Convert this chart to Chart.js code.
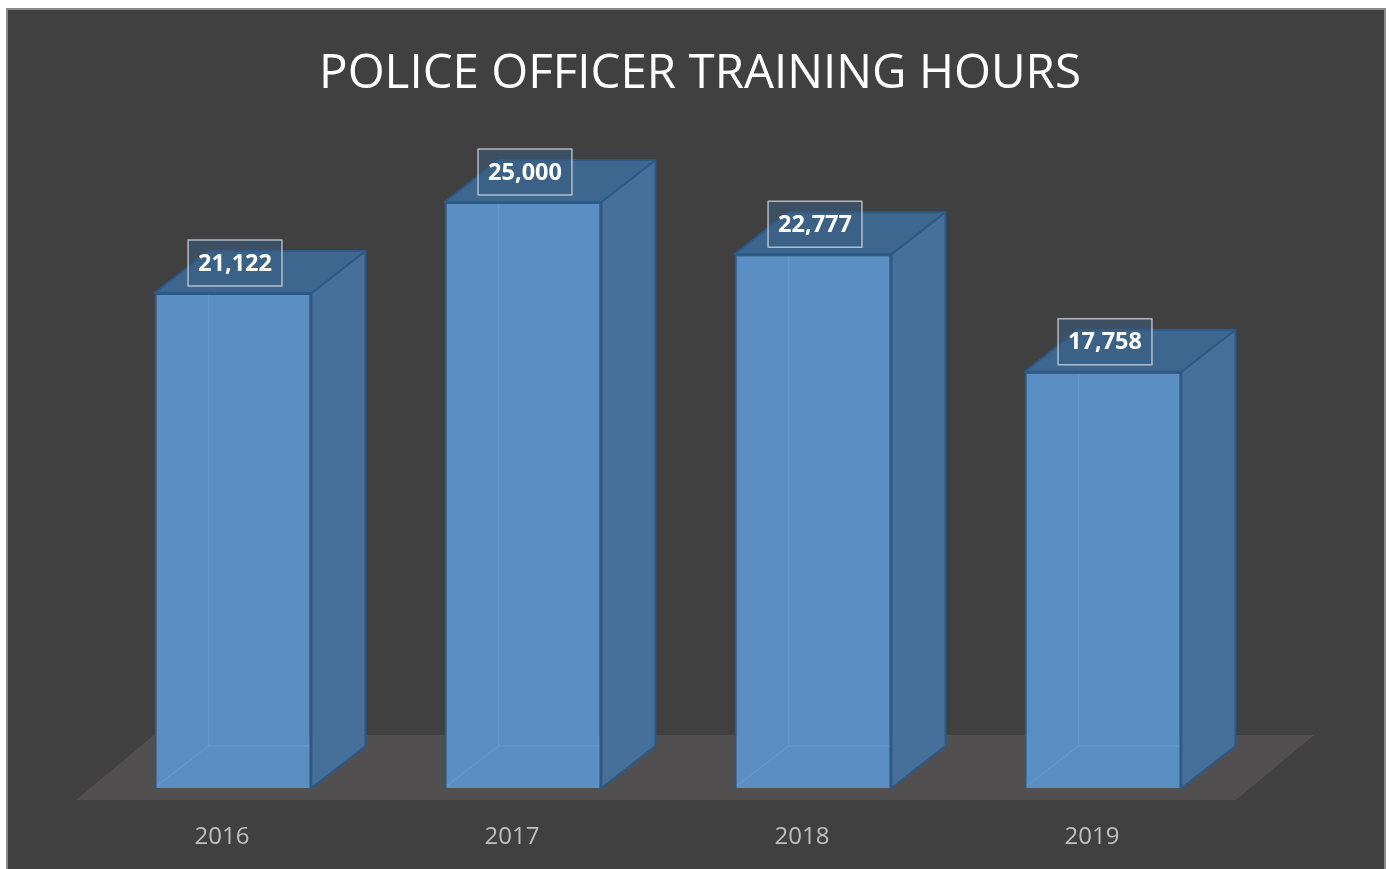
<!DOCTYPE html>
<html>
<head>
<meta charset="utf-8">
<script src="https://cdn.jsdelivr.net/npm/chart.js@4/dist/chart.umd.min.js"></script>
<style>
  html, body { margin: 0; padding: 0; background: #ffffff; overflow: hidden; }
  #wrap { position: relative; width: 1390px; height: 869px; }
  #frame {
    position: absolute; left: 6px; top: 8px; width: 1376px; height: 870px;
    border: 2px solid #8a8a8a; background: #404040;
  }
  #chart { position: absolute; left: 0; top: 0; }
</style>
</head>
<body>
<div id="wrap">
  <div id="frame"></div>
  <canvas id="chart" width="1390" height="869"></canvas>
</div>
<script>
const chartTitle = 'POLICE OFFICER TRAINING HOURS';
const years = ['2016', '2017', '2018', '2019'];
const trainingHours = [21122, 25000, 22777, 17758];

// depth of the fake 3d extrusion
const depthX = 54;
const depthY = -42;

// title is drawn over the whole canvas width, not just the plot area
const titlePlugin = {
  id: 'centerTitle',
  afterDraw(chart) {
    const { ctx, width } = chart;
    ctx.save();
    ctx.font = '47.5px "Open Sans", sans-serif';
    ctx.fillStyle = '#ffffff';
    ctx.textAlign = 'center';
    ctx.textBaseline = 'alphabetic';
    ctx.fillText(chartTitle, width / 2 + 5, 88);
    ctx.restore();
  }
};

const floorPlugin = {
  id: 'floor',
  beforeDatasetsDraw(chart) {
    const { ctx, chartArea } = chart;
    const b = chartArea.bottom;
    ctx.save();
    ctx.fillStyle = '#514f4f';
    ctx.beginPath();
    ctx.moveTo(chartArea.left - 12, b + 12);
    ctx.lineTo(chartArea.right - 12, b + 12);
    ctx.lineTo(chartArea.right + 66, b - 53);
    ctx.lineTo(chartArea.left + 66, b - 53);
    ctx.closePath();
    ctx.fill();
    ctx.restore();
  }
};

const boxPlugin = {
  id: 'box3d',
  afterDatasetsDraw(chart) {
    const { ctx } = chart;
    const meta = chart.getDatasetMeta(0);
    ctx.save();
    meta.data.forEach((bar, i) => {
      const left = bar.x - bar.width / 2;
      const right = bar.x + bar.width / 2;
      const top = bar.y;
      const base = bar.base;

      ctx.lineJoin = 'round';
      ctx.strokeStyle = '#2c5a88';
      ctx.lineWidth = 2;

      // side
      ctx.fillStyle = 'rgba(70, 114, 156, 0.97)';
      ctx.beginPath();
      ctx.moveTo(right, top);
      ctx.lineTo(right + depthX, top + depthY);
      ctx.lineTo(right + depthX, base + depthY);
      ctx.lineTo(right, base);
      ctx.closePath();
      ctx.fill();
      ctx.stroke();

      // top
      ctx.fillStyle = 'rgba(62, 104, 146, 0.97)';
      ctx.beginPath();
      ctx.moveTo(left, top);
      ctx.lineTo(left + depthX, top + depthY);
      ctx.lineTo(right + depthX, top + depthY);
      ctx.lineTo(right, top);
      ctx.closePath();
      ctx.fill();
      ctx.stroke();

      // faint hidden back edges seen through the front
      ctx.strokeStyle = 'rgba(120, 170, 220, 0.35)';
      ctx.lineWidth = 1.5;
      ctx.beginPath();
      ctx.moveTo(left + 2, base - 2);
      ctx.lineTo(left + depthX, base + depthY);
      ctx.lineTo(left + depthX, top + 2);
      ctx.moveTo(left + depthX, base + depthY);
      ctx.lineTo(right - 2, base + depthY);
      ctx.stroke();

      // value label
      const text = trainingHours[i].toLocaleString('en-US');
      ctx.font = 'bold 23.5px "Open Sans", sans-serif';
      const tw = ctx.measureText(text).width;
      const bw = tw + 20;
      const bh = 46;
      const cx = bar.x + 2;
      const cy = top - 30;
      ctx.fillStyle = 'rgba(58, 92, 128, 0.55)';
      ctx.fillRect(cx - bw / 2, cy - bh / 2, bw, bh);
      ctx.strokeStyle = 'rgba(215, 222, 230, 0.75)';
      ctx.lineWidth = 1.5;
      ctx.strokeRect(cx - bw / 2, cy - bh / 2, bw, bh);
      ctx.fillStyle = '#ffffff';
      ctx.textAlign = 'center';
      ctx.textBaseline = 'middle';
      ctx.fillText(text, cx, cy + 1);
    });
    ctx.restore();
  }
};

new Chart(document.getElementById('chart'), {
  type: 'bar',
  data: {
    labels: years,
    datasets: [{
      label: 'Training hours',
      data: trainingHours,
      backgroundColor: 'rgba(92, 145, 198, 0.97)',
      borderColor: '#2c5a88',
      borderWidth: 2,
      categoryPercentage: 1,
      barPercentage: 0.541
    }]
  },
  options: {
    responsive: false,
    animation: false,
    layout: {
      padding: { top: 120, left: 88, right: 142, bottom: 0 }
    },
    plugins: {
      legend: { display: false },
      tooltip: { enabled: false },
      title: { display: false }
    },
    scales: {
      x: {
        grid: { display: false, drawTicks: false },
        border: { display: false },
        ticks: {
          color: '#bfbfbf',
          font: { family: '"Open Sans", sans-serif', size: 24 },
          padding: 35,
          labelOffset: -11
        },
        afterFit(scale) {
          scale.height = 81;
        }
      },
      y: {
        display: false,
        min: 0,
        max: 28500
      }
    }
  },
  plugins: [floorPlugin, boxPlugin, titlePlugin]
});
</script>
</body>
</html>
